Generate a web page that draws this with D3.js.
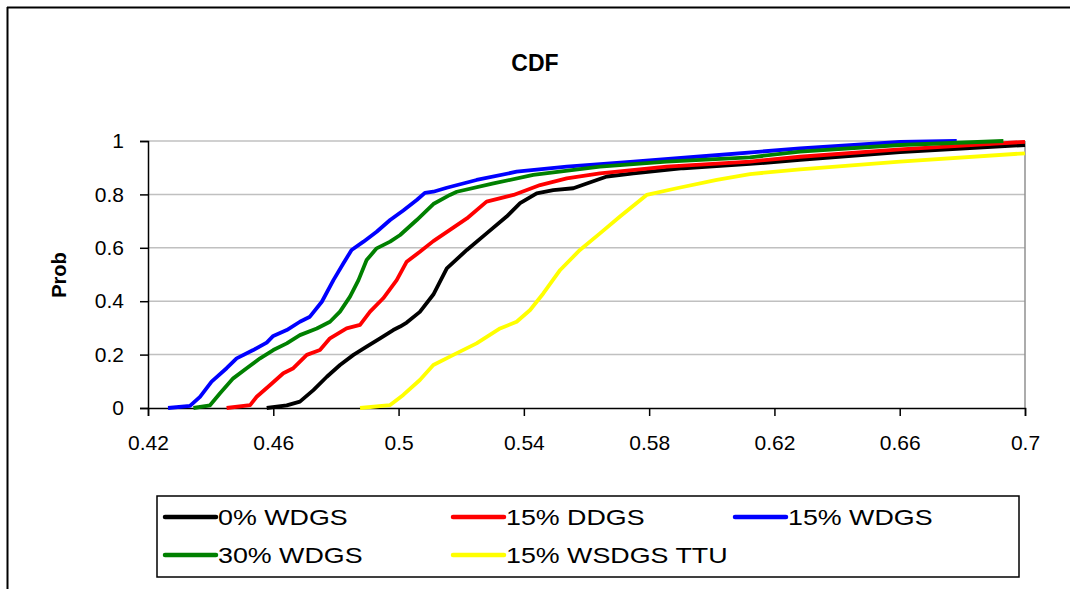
<!DOCTYPE html>
<html>
<head>
<meta charset="utf-8">
<script src="https://cdn.jsdelivr.net/npm/d3@7"></script>
<style>
html,body{margin:0;padding:0;background:#fff;overflow:hidden;}
svg{display:block;font-family:"Liberation Sans",Arial,sans-serif;}
</style>
</head>
<body>
<svg id="chart" width="1070" height="589"></svg>
<script>
// ---- data ----
const seriesNames = ["0% WDGS", "15% DDGS", "15% WDGS", "30% WDGS", "15% WSDGS TTU"];
const seriesColors = ["#000000", "#ff0000", "#0000ff", "#008000", "#ffff00"];

const xTicks = [0.42, 0.46, 0.5, 0.54, 0.58, 0.62, 0.66, 0.7];
const yTicks = [0, 0.2, 0.4, 0.6, 0.8, 1];

// [x, probability]
const wdgs0 = [[0.4579,0],[0.4643,0.01],[0.4685,0.024],[0.4728,0.067],[0.4771,0.117],[0.4813,0.161],[0.4856,0.199],[0.4898,0.23],[0.4941,0.261],[0.4983,0.292],[0.5005,0.305],[0.5026,0.32],[0.5068,0.36],[0.5111,0.425],[0.5154,0.523],[0.5218,0.592],[0.5281,0.654],[0.5345,0.717],[0.5388,0.767],[0.5441,0.804],[0.5494,0.816],[0.5558,0.823],[0.5601,0.841],[0.5665,0.867],[0.575,0.879],[0.5909,0.898],[0.6122,0.914],[0.6282,0.929],[0.6601,0.958],[0.7,0.985]];
const ddgs15 = [[0.4451,0],[0.4526,0.011],[0.4547,0.042],[0.459,0.086],[0.4632,0.13],[0.4664,0.149],[0.4707,0.199],[0.4749,0.217],[0.4781,0.261],[0.4834,0.298],[0.4877,0.311],[0.4909,0.361],[0.4951,0.411],[0.4994,0.479],[0.5026,0.548],[0.5068,0.585],[0.5111,0.625],[0.5164,0.667],[0.5218,0.71],[0.5281,0.773],[0.5367,0.798],[0.5452,0.835],[0.5537,0.86],[0.5643,0.879],[0.5856,0.904],[0.6122,0.923],[0.6282,0.941],[0.6601,0.969],[0.692,0.991],[0.7,0.997]];
const wdgs15 = [[0.4264,0],[0.4334,0.008],[0.4366,0.042],[0.4403,0.099],[0.4451,0.149],[0.4483,0.186],[0.4536,0.217],[0.4579,0.245],[0.46,0.27],[0.4643,0.292],[0.4685,0.323],[0.4717,0.342],[0.4755,0.398],[0.4792,0.479],[0.4824,0.542],[0.485,0.592],[0.4888,0.623],[0.493,0.66],[0.4973,0.704],[0.5015,0.74],[0.5058,0.779],[0.5084,0.806],[0.5111,0.81],[0.5154,0.825],[0.5249,0.854],[0.5377,0.885],[0.5537,0.904],[0.575,0.923],[0.5962,0.942],[0.6282,0.972],[0.6601,0.997],[0.6782,1]];
const wdgs30 = [[0.4345,0],[0.4398,0.01],[0.443,0.055],[0.4472,0.111],[0.4515,0.149],[0.4558,0.186],[0.46,0.217],[0.4643,0.242],[0.4685,0.273],[0.4739,0.298],[0.4781,0.323],[0.4813,0.361],[0.4845,0.417],[0.4872,0.479],[0.4898,0.554],[0.493,0.598],[0.4973,0.623],[0.5005,0.648],[0.5058,0.704],[0.5111,0.764],[0.5164,0.798],[0.5186,0.81],[0.5303,0.841],[0.543,0.873],[0.5643,0.904],[0.5856,0.923],[0.6122,0.939],[0.6282,0.96],[0.6601,0.985],[0.6931,1]];
const wsdgs15 = [[0.4877,0],[0.4973,0.011],[0.5015,0.049],[0.5068,0.105],[0.5111,0.161],[0.5175,0.199],[0.5249,0.242],[0.5324,0.298],[0.5377,0.323],[0.542,0.367],[0.5462,0.429],[0.5516,0.517],[0.5579,0.592],[0.5643,0.654],[0.5707,0.717],[0.5792,0.798],[0.5888,0.823],[0.6016,0.854],[0.6122,0.876],[0.6282,0.894],[0.6601,0.923],[0.7,0.954]];

const seriesData = [wdgs0, ddgs15, wdgs15, wdgs30, wsdgs15];

// ---- drawing ----
const svg = d3.select("#chart");
const W = 1070, H = 589;
const plot = {left: 148, right: 1025, top: 141, bottom: 408};

// outer chart border: only top and left edges are inside the picture
svg.append("line").attr("x1", 7).attr("x2", W).attr("y1", 7.5).attr("y2", 7.5)
  .attr("stroke", "#000").attr("stroke-width", 2);
svg.append("line").attr("x1", 7.5).attr("x2", 7.5).attr("y1", 7).attr("y2", H)
  .attr("stroke", "#000").attr("stroke-width", 2);

const x = d3.scaleLinear().domain([0.42, 0.7]).range([plot.left, plot.right]);
const y = d3.scaleLinear().domain([0, 1]).range([plot.bottom, plot.top]);

// gridlines
svg.append("g").selectAll("line").data(yTicks.filter(d => d > 0)).join("line")
  .attr("x1", plot.left).attr("x2", plot.right)
  .attr("y1", d => y(d)).attr("y2", d => y(d))
  .attr("stroke", "#c0c0c0").attr("stroke-width", 1.5);

// right border of plot area
svg.append("line").attr("x1", plot.right).attr("x2", plot.right)
  .attr("y1", plot.top).attr("y2", plot.bottom)
  .attr("stroke", "#909090").attr("stroke-width", 1.5);

// axes
const yAxis = d3.axisLeft(y).tickValues(yTicks).tickSize(8).tickPadding(16)
  .tickFormat(d => d3.format("")(d));
const gy = svg.append("g").attr("transform", `translate(${plot.left},0)`).call(yAxis);
gy.select(".domain").attr("stroke", "#000").attr("stroke-width", 1.5);
gy.selectAll(".tick line").attr("stroke", "#000").attr("stroke-width", 1.5);
gy.selectAll(".tick text").attr("font-size", 21).attr("fill", "#000")
  .attr("font-family", "Liberation Sans, Arial, sans-serif");

const xAxis = d3.axisBottom(x).tickValues(xTicks).tickSize(8).tickPadding(19)
  .tickFormat(d => d3.format("")(d));
const gx = svg.append("g").attr("transform", `translate(0,${plot.bottom})`).call(xAxis);
gx.select(".domain").attr("stroke", "#000").attr("stroke-width", 1.5);
gx.selectAll(".tick line").attr("stroke", "#000").attr("stroke-width", 1.5);
gx.selectAll(".tick text").attr("font-size", 21).attr("fill", "#000")
  .attr("font-family", "Liberation Sans, Arial, sans-serif");

// lines
const line = d3.line().x(d => x(d[0])).y(d => y(d[1]));
svg.append("g").selectAll("path").data(seriesData).join("path")
  .attr("d", line)
  .attr("fill", "none")
  .attr("stroke", (d, i) => seriesColors[i])
  .attr("stroke-width", 3.8)
  .attr("stroke-linejoin", "round");

// title
svg.append("text").attr("x", 535).attr("y", 71).attr("text-anchor", "middle")
  .attr("font-size", 23).attr("font-weight", "bold").text("CDF");

// y title
svg.append("text").attr("transform", "translate(66,275) rotate(-90)")
  .attr("text-anchor", "middle").attr("font-size", 20).attr("font-weight", "bold").text("Prob");

// legend
const legend = {x: 157, y: 496, w: 862, h: 81};
svg.append("rect").attr("x", legend.x).attr("y", legend.y).attr("width", legend.w).attr("height", legend.h)
  .attr("fill", "#fff").attr("stroke", "#000").attr("stroke-width", 1.5);
const colX = [165, 453, 735];
const rowY = [517, 555];
const items = seriesNames.map((name, i) => ({name, color: seriesColors[i], cx: colX[i % 3], cy: rowY[Math.floor(i / 3)]}));
const lg = svg.append("g").selectAll("g").data(items).join("g")
  .attr("transform", d => `translate(${d.cx},${d.cy})`);
lg.append("line").attr("x1", 0).attr("x2", 51).attr("y1", 0).attr("y2", 0)
  .attr("stroke", d => d.color).attr("stroke-width", 4.5).attr("stroke-linecap", "round");
lg.append("text").attr("transform", "translate(53,0) scale(1.22,1)")
  .attr("dy", "0.36em").attr("font-size", 22)
  .text(d => d.name);
</script>
</body>
</html>
